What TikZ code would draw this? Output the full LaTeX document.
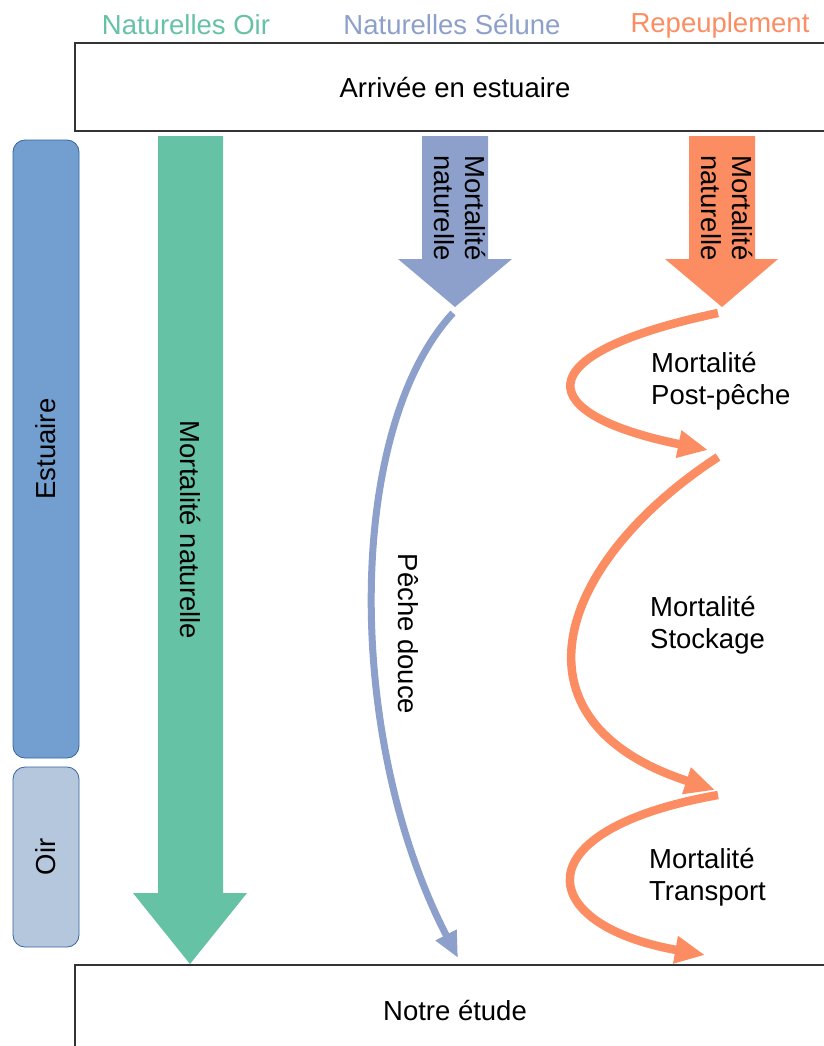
\documentclass[tikz,border=0pt]{standalone}
\usepackage{fontspec}
\setmainfont{Liberation Sans}
\usetikzlibrary{arrows.meta}
\definecolor{cgreen}{HTML}{66C2A5}
\definecolor{cblue}{HTML}{8DA0CB}
\definecolor{corange}{HTML}{FC8D62}
\definecolor{estfill}{HTML}{729FCF}
\definecolor{oirfill}{HTML}{B4C7DC}
\definecolor{zoneborder}{HTML}{3465A4}
\tikzset{
  txt/.style={font=\fontsize{27.5}{31.5}\selectfont, inner sep=0pt},
  header/.style={txt, anchor=center},
  zone/.style={draw=zoneborder, line width=0.8pt, rounded corners=12pt},
  bigbox/.style={draw=black!80, line width=1.5pt, fill=white},
  bluecurve/.style={draw=cblue, line width=7pt, -{Triangle[length=26pt,width=22pt]}},
  orangecurve/.style={draw=corange, line width=8.5pt, -{Triangle[length=30pt,width=26pt]}},
}
\begin{document}
\begin{tikzpicture}[x=1pt,y=-1pt]
\useasboundingbox (0,0) rectangle (823,1046);
\fill[white] (0,0) rectangle (823,1046);

% headers
\node[header, text=cgreen] (hoir) at (186,25) {Naturelles Oir};
\node[header, text=cblue] (hsel) at (452,25) {Naturelles Sélune};
\node[header, text=corange] (hrep) at (720,25) {Repeuplement};

% top and bottom boxes
\draw[bigbox] (75,43) rectangle (840,131);
\node[txt] (arr) at (455,88) {Arrivée en estuaire};
\draw[bigbox] (75,965) rectangle (840,1070);
\node[txt] (notre) at (455,1010) {Notre étude};

% zones
\draw[zone, fill=estfill] (13,140) rectangle (79,758);
\node[txt, rotate=90] (est) at (46,449) {Estuaire};
\draw[zone, fill=oirfill] (13,767) rectangle (79,947);
\node[txt, rotate=90] (oir) at (46,857) {Oir};

% green block arrow
\fill[cgreen] (158,136) -- (223,136) -- (223,893) -- (247,893) -- (190,964)
  -- (133,893) -- (158,893) -- cycle;
\node[txt, rotate=-90] (gtxt) at (190,530) {Mortalité naturelle};

% blue block arrow
\fill[cblue] (422,136) -- (488,136) -- (488,259) -- (512,259) -- (455,307)
  -- (398,259) -- (422,259) -- cycle;
\node[txt, rotate=-90, align=left, anchor=north west] (btxt) at (486,155) {Mortalité\\naturelle};

% orange block arrow
\fill[corange] (689,136) -- (755,136) -- (755,259) -- (778,259) -- (722,307)
  -- (665,259) -- (689,259) -- cycle;
\node[txt, rotate=-90, align=left, anchor=north west] (otxt) at (753,155) {Mortalité\\naturelle};

% curve endpoints
\coordinate (b0) at (453,313);
\coordinate (b1) at (458,958);
\coordinate (o0) at (718,313);
\coordinate (o1) at (708,450);
\coordinate (o2) at (718,457);
\coordinate (o3) at (715,790);
\coordinate (o4) at (718,795);
\coordinate (o5) at (705,955);

% blue curve
\draw[bluecurve] (b0) .. controls (345,430) and (345,740) .. (b1);
\node[txt, rotate=-90] (peche) at (408,634) {Pêche douce};

% orange curves
\draw[orangecurve] (o0) .. controls (520,355) and (535,415) .. (o1);
\draw[orangecurve] (o2) .. controls (560,560) and (500,720) .. (o3);
\draw[orangecurve] (o4) .. controls (520,830) and (535,925) .. (o5);

\node[txt, align=left, anchor=west] (l1) at (651,381) {Mortalité\\Post-pêche};
\node[txt, align=left, anchor=west] (l2) at (650,625) {Mortalité\\Stockage};
\node[txt, align=left, anchor=west] (l3) at (649,877) {Mortalité\\Transport};
\end{tikzpicture}
\end{document}
